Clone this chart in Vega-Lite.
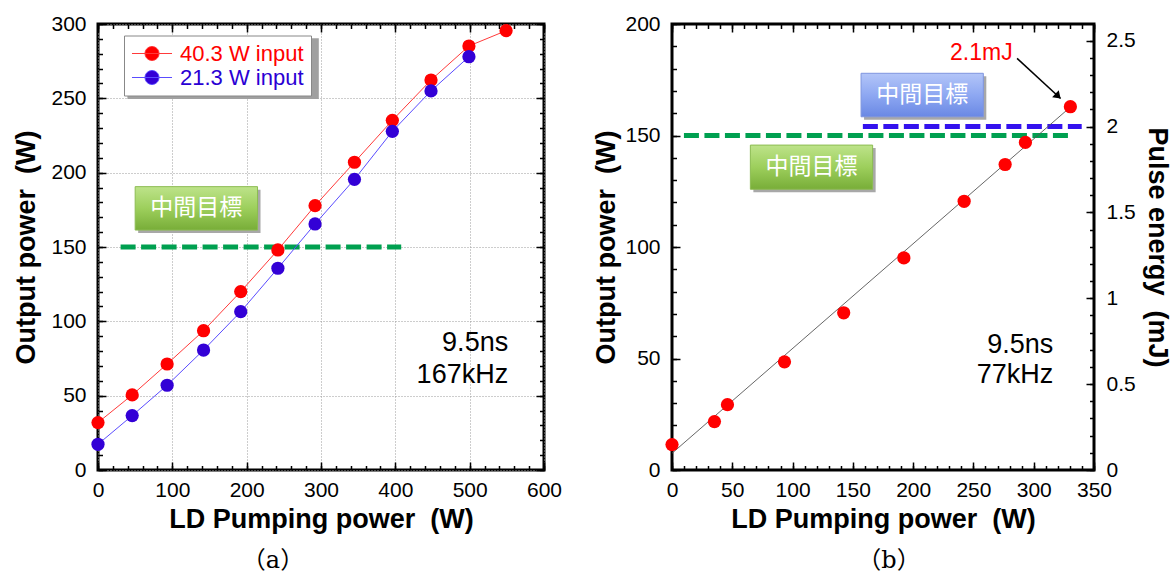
{
  "$schema": "https://vega.github.io/schema/vega-lite/v6.json",
  "background": "white",
  "padding": {"left": 11, "top": 11, "right": 0, "bottom": 0},
  "spacing": 27,
  "config": {
    "view": {"stroke": "black", "strokeWidth": 3},
    "font": "Liberation Sans",
    "axis": {"labelFont": "Liberation Sans", "labelFontSize": 21, "labelColor": "black", "titleFont": "Liberation Sans", "titleFontSize": 27, "titleFontWeight": "bold", "titleColor": "black", "domain": false, "grid": false, "labelFlush": false, "labelOverlap": false, "tickColor": "black", "tickWidth": 1.5}
  },
  "datasets": {
    "a": [
      {"x": 0, "y": 31.9, "series": "40.3 W input"},
      {"x": 46, "y": 50.5, "series": "40.3 W input"},
      {"x": 93, "y": 71.3, "series": "40.3 W input"},
      {"x": 142, "y": 93.7, "series": "40.3 W input"},
      {"x": 192, "y": 120, "series": "40.3 W input"},
      {"x": 242, "y": 148, "series": "40.3 W input"},
      {"x": 292, "y": 177.8, "series": "40.3 W input"},
      {"x": 345, "y": 207, "series": "40.3 W input"},
      {"x": 396, "y": 235.2, "series": "40.3 W input"},
      {"x": 448, "y": 262.3, "series": "40.3 W input"},
      {"x": 499, "y": 285.2, "series": "40.3 W input"},
      {"x": 549, "y": 295.5, "series": "40.3 W input"},
      {"x": 0, "y": 17.3, "series": "21.3 W input"},
      {"x": 46, "y": 36.6, "series": "21.3 W input"},
      {"x": 93, "y": 57, "series": "21.3 W input"},
      {"x": 142, "y": 80.7, "series": "21.3 W input"},
      {"x": 192, "y": 106.5, "series": "21.3 W input"},
      {"x": 242, "y": 135.7, "series": "21.3 W input"},
      {"x": 292, "y": 165.5, "series": "21.3 W input"},
      {"x": 345, "y": 195.5, "series": "21.3 W input"},
      {"x": 396, "y": 227.8, "series": "21.3 W input"},
      {"x": 448, "y": 255, "series": "21.3 W input"},
      {"x": 499, "y": 278, "series": "21.3 W input"}
    ],
    "a_dash": [{"x": 30.4, "x2": 407.9, "y": 150}],
    "a_box": [{"x": 50, "x2": 214.6, "y": 161.4, "y2": 190.6, "cx": 132.3, "cy": 176, "label": "中間目標"}],
    "a_leg": [{"x": 35.5, "x2": 293, "y": 251.5, "y2": 292.5}],
    "a_text": [{"x": 551.8, "y": 85.2, "t": "9.5ns"}, {"x": 551.8, "y": 63.9, "t": "167kHz"}],
    "b": [
      {"x": 0, "y": 11.4}, {"x": 35.2, "y": 21.7}, {"x": 46, "y": 29.3}, {"x": 93.3, "y": 48.5},
      {"x": 142.4, "y": 70.5}, {"x": 192.3, "y": 95.1}, {"x": 242.3, "y": 120.5}, {"x": 276.3, "y": 137},
      {"x": 293.1, "y": 146.9}, {"x": 330.4, "y": 162.9}
    ],
    "b_fit": [{"x": 0, "y": 7.5}, {"x": 332, "y": 163.5}],
    "b_dash_g": [{"x": 9.9, "x2": 332, "y": 150}],
    "b_dash_b": [{"x": 158.3, "x2": 339.8, "y": 154}],
    "b_box_g": [{"x": 65, "x2": 166.4, "y": 125.9, "y2": 145.7, "cx": 115.7, "cy": 135.8, "label": "中間目標"}],
    "b_box_b": [{"x": 156.8, "x2": 258.2, "y": 158.4, "y2": 177.9, "cx": 207.5, "cy": 168.1, "label": "中間目標"}],
    "b_text": [{"x": 316.3, "y": 56.2, "t": "9.5ns"}, {"x": 316.3, "y": 42.4, "t": "77kHz"}],
    "b_note": [{"x": 256.6, "y": 186.8, "t": "2.1mJ"}],
    "b_arrow": [{"x": 286.2, "y": 184.6, "x2": 322.3, "y2": 166.6}]
  },
  "hconcat": [
    {
      "width": 446,
      "height": 446,
      "title": {"text": "（a）", "orient": "bottom", "font": "DejaVu Serif, Noto Sans CJK JP", "fontSize": 24, "fontWeight": "normal", "color": "black", "frame": "group", "anchor": "middle", "dx": -48, "offset": 17},
      "resolve": {"scale": {"color": "independent"}, "axis": {"x": "independent", "y": "independent"}},
      "layer": [
        {
          "data": {"name": "a"},
          "mark": {"type": "point", "opacity": 0},
          "encoding": {
            "x": {"field": "x", "type": "quantitative", "scale": {"domain": [0, 600], "nice": false, "zero": false},
              "axis": {"orient": "bottom", "values": [0, 100, 200, 300, 400, 500, 600], "ticks": false, "labelPadding": 9, "grid": true, "gridColor": "#9a9a9a", "gridDash": [1, 2], "gridWidth": 1, "title": "LD Pumping power\u00a0 (W)", "titlePadding": 6}},
            "y": {"field": "y", "type": "quantitative", "scale": {"domain": [0, 300], "nice": false, "zero": false},
              "axis": {"orient": "left", "values": [0, 50, 100, 150, 200, 250, 300], "ticks": false, "labelPadding": 12, "grid": true, "gridColor": "#9a9a9a", "gridDash": [1, 2], "gridWidth": 1, "title": "Output power\u00a0 (W)", "titlePadding": 10}}
          }
        },
        {
          "data": {"name": "a"},
          "mark": {"type": "point", "opacity": 0},
          "encoding": {
            "x": {"field": "x", "type": "quantitative", "scale": {"domain": [0, 600], "nice": false, "zero": false},
              "axis": {"orient": "bottom", "values": [0, 100, 200, 300, 400, 500, 600], "labels": false, "tickSize": -8, "title": null}},
            "y": {"field": "y", "type": "quantitative", "scale": {"domain": [0, 300], "nice": false, "zero": false},
              "axis": {"orient": "left", "values": [0, 50, 100, 150, 200, 250, 300], "labels": false, "tickSize": -8, "title": null}}
          }
        },
        {
          "data": {"name": "a"},
          "mark": {"type": "point", "opacity": 0},
          "encoding": {
            "x": {"field": "x", "type": "quantitative", "scale": {"domain": [0, 600], "nice": false, "zero": false},
              "axis": {"orient": "bottom", "values": [0, 20, 40, 60, 80, 100, 120, 140, 160, 180, 200, 220, 240, 260, 280, 300, 320, 340, 360, 380, 400, 420, 440, 460, 480, 500, 520, 540, 560, 580, 600], "labels": false, "tickSize": -4.5, "title": null}},
            "y": {"field": "y", "type": "quantitative", "scale": {"domain": [0, 300], "nice": false, "zero": false},
              "axis": {"orient": "left", "values": [0, 10, 20, 30, 40, 50, 60, 70, 80, 90, 100, 110, 120, 130, 140, 150, 160, 170, 180, 190, 200, 210, 220, 230, 240, 250, 260, 270, 280, 290, 300], "labels": false, "tickSize": -4.5, "title": null}}
          }
        },
        {
          "data": {"name": "a"},
          "mark": {"type": "point", "opacity": 0},
          "encoding": {
            "x": {"field": "x", "type": "quantitative", "scale": {"domain": [0, 600], "nice": false, "zero": false},
              "axis": {"orient": "top", "values": [0, 100, 200, 300, 400, 500, 600], "labels": false, "tickSize": -8, "title": null}},
            "y": {"field": "y", "type": "quantitative", "scale": {"domain": [0, 300], "nice": false, "zero": false},
              "axis": {"orient": "right", "values": [0, 50, 100, 150, 200, 250, 300], "labels": false, "tickSize": -8, "title": null}}
          }
        },
        {
          "data": {"name": "a"},
          "mark": {"type": "point", "opacity": 0},
          "encoding": {
            "x": {"field": "x", "type": "quantitative", "scale": {"domain": [0, 600], "nice": false, "zero": false},
              "axis": {"orient": "top", "values": [0, 20, 40, 60, 80, 100, 120, 140, 160, 180, 200, 220, 240, 260, 280, 300, 320, 340, 360, 380, 400, 420, 440, 460, 480, 500, 520, 540, 560, 580, 600], "labels": false, "tickSize": -4.5, "title": null}},
            "y": {"field": "y", "type": "quantitative", "scale": {"domain": [0, 300], "nice": false, "zero": false},
              "axis": {"orient": "right", "values": [0, 10, 20, 30, 40, 50, 60, 70, 80, 90, 100, 110, 120, 130, 140, 150, 160, 170, 180, 190, 200, 210, 220, 230, 240, 250, 260, 270, 280, 290, 300], "labels": false, "tickSize": -4.5, "title": null}}
          }
        },
        {
          "data": {"name": "a_dash"},
          "mark": {"type": "rule", "color": "#00a050", "strokeWidth": 5, "strokeDash": [15, 5.5]},
          "encoding": {
            "x": {"field": "x", "type": "quantitative", "scale": {"domain": [0, 600], "nice": false, "zero": false}, "axis": null},
            "x2": {"field": "x2"},
            "y": {"field": "y", "type": "quantitative", "scale": {"domain": [0, 300], "nice": false, "zero": false}, "axis": null}
          }
        },
        {
          "data": {"name": "a_box"},
          "mark": {"type": "rect", "color": "#a8a8a8", "xOffset": 3, "x2Offset": 3, "yOffset": 3, "y2Offset": 3},
          "encoding": {
            "x": {"field": "x", "type": "quantitative", "scale": {"domain": [0, 600], "nice": false, "zero": false}, "axis": null},
            "x2": {"field": "x2"},
            "y": {"field": "y", "type": "quantitative", "scale": {"domain": [0, 300], "nice": false, "zero": false}, "axis": null},
            "y2": {"field": "y2"}
          }
        },
        {
          "data": {"name": "a_box"},
          "mark": {"type": "rect", "stroke": "#8cbc52", "strokeWidth": 1, "color": {"gradient": "linear", "x1": 0, "y1": 0, "x2": 0, "y2": 1, "stops": [{"offset": 0, "color": "#bde38a"}, {"offset": 0.5, "color": "#9dcf5c"}, {"offset": 1, "color": "#78ad38"}]}},
          "encoding": {
            "x": {"field": "x", "type": "quantitative", "scale": {"domain": [0, 600], "nice": false, "zero": false}, "axis": null},
            "x2": {"field": "x2"},
            "y": {"field": "y", "type": "quantitative", "scale": {"domain": [0, 300], "nice": false, "zero": false}, "axis": null},
            "y2": {"field": "y2"}
          }
        },
        {
          "data": {"name": "a_box"},
          "mark": {"type": "text", "color": "white", "font": "Noto Sans CJK JP", "fontSize": 23, "align": "center", "baseline": "middle"},
          "encoding": {
            "x": {"field": "cx", "type": "quantitative", "scale": {"domain": [0, 600], "nice": false, "zero": false}, "axis": null},
            "y": {"field": "cy", "type": "quantitative", "scale": {"domain": [0, 300], "nice": false, "zero": false}, "axis": null},
            "text": {"field": "label"}
          }
        },
        {
          "data": {"name": "a_leg"},
          "mark": {"type": "rect", "color": "#a0a0a0", "xOffset": 3, "x2Offset": 3, "yOffset": 3, "y2Offset": 3},
          "encoding": {
            "x": {"field": "x", "type": "quantitative", "scale": {"domain": [0, 600], "nice": false, "zero": false}, "axis": null},
            "x2": {"field": "x2"},
            "y": {"field": "y", "type": "quantitative", "scale": {"domain": [0, 300], "nice": false, "zero": false}, "axis": null},
            "y2": {"field": "y2"}
          }
        },
        {
          "data": {"name": "a_text"},
          "mark": {"type": "text", "color": "black", "font": "Liberation Sans", "fontSize": 27, "align": "right", "baseline": "middle"},
          "encoding": {
            "x": {"field": "x", "type": "quantitative", "scale": {"domain": [0, 600], "nice": false, "zero": false}, "axis": null},
            "y": {"field": "y", "type": "quantitative", "scale": {"domain": [0, 300], "nice": false, "zero": false}, "axis": null},
            "text": {"field": "t"}
          }
        },
        {
          "data": {"name": "a"},
          "mark": {"type": "line", "strokeWidth": 1},
          "encoding": {
            "x": {"field": "x", "type": "quantitative", "scale": {"domain": [0, 600], "nice": false, "zero": false}, "axis": null},
            "y": {"field": "y", "type": "quantitative", "scale": {"domain": [0, 300], "nice": false, "zero": false}, "axis": null},
            "color": {"field": "series", "type": "nominal", "scale": {"domain": ["40.3 W input", "21.3 W input"], "range": ["#ff3a3a", "#5a4cff"]}, "legend": null}
          }
        },
        {
          "data": {"name": "a"},
          "mark": {"type": "circle", "size": 175, "opacity": 1},
          "encoding": {
            "x": {"field": "x", "type": "quantitative", "scale": {"domain": [0, 600], "nice": false, "zero": false}, "axis": null},
            "y": {"field": "y", "type": "quantitative", "scale": {"domain": [0, 300], "nice": false, "zero": false}, "axis": null},
            "color": {"field": "series", "type": "nominal", "scale": {"domain": ["40.3 W input", "21.3 W input"], "range": ["#ff0000", "#3300d6"]},
              "legend": {"orient": "none", "legendX": 26, "legendY": 11.5, "title": null, "fillColor": "white", "strokeColor": "#888888", "padding": 7, "symbolType": "M-1.43,0L4.29,0M0.43,0A1,1,0,1,1,2.43,0A1,1,0,1,1,0.43,0Z", "symbolSize": 196, "symbolStrokeWidth": 1, "symbolOpacity": 1, "labelFont": "Liberation Sans", "labelFontSize": 22, "labelOffset": 27, "rowPadding": 2, "labelLimit": 300,
                "encode": {
                  "labels": {"update": {"fill": {"signal": "datum.value === '40.3 W input' ? '#ff0000' : '#2a00d4'"}}},
                  "symbols": {"update": {"stroke": {"signal": "datum.value === '40.3 W input' ? '#ff3a3a' : '#5a4cff'"}}}
                }}}
          }
        }
      ]
    },
    {
      "width": 422,
      "height": 446,
      "title": {"text": "（b）", "orient": "bottom", "font": "DejaVu Serif, Noto Sans CJK JP", "fontSize": 24, "fontWeight": "normal", "color": "black", "frame": "group", "anchor": "middle", "dx": 6, "offset": 17},
      "resolve": {"axis": {"x": "independent", "y": "independent"}},
      "layer": [
        {
          "data": {"name": "b"},
          "mark": {"type": "point", "opacity": 0},
          "encoding": {
            "x": {"field": "x", "type": "quantitative", "scale": {"domain": [0, 350], "nice": false, "zero": false},
              "axis": {"orient": "bottom", "values": [0, 50, 100, 150, 200, 250, 300, 350], "ticks": false, "labelPadding": 9, "title": "LD Pumping power\u00a0 (W)", "titlePadding": 6}},
            "y": {"field": "y", "type": "quantitative", "scale": {"domain": [0, 200], "nice": false, "zero": false},
              "axis": {"orient": "left", "values": [0, 50, 100, 150, 200], "ticks": false, "labelPadding": 12, "title": "Output power\u00a0 (W)", "titlePadding": 4}}
          }
        },
        {
          "data": {"name": "b"},
          "mark": {"type": "point", "opacity": 0},
          "encoding": {
            "x": {"field": "x", "type": "quantitative", "scale": {"domain": [0, 350], "nice": false, "zero": false},
              "axis": {"orient": "bottom", "values": [0, 50, 100, 150, 200, 250, 300, 350], "labels": false, "tickSize": -8, "title": null}},
            "y": {"field": "y", "type": "quantitative", "scale": {"domain": [0, 200], "nice": false, "zero": false},
              "axis": {"orient": "left", "values": [0, 50, 100, 150, 200], "labels": false, "tickSize": -8, "title": null}}
          }
        },
        {
          "data": {"name": "b"},
          "mark": {"type": "point", "opacity": 0},
          "encoding": {
            "x": {"field": "x", "type": "quantitative", "scale": {"domain": [0, 350], "nice": false, "zero": false},
              "axis": {"orient": "bottom", "values": [0, 10, 20, 30, 40, 50, 60, 70, 80, 90, 100, 110, 120, 130, 140, 150, 160, 170, 180, 190, 200, 210, 220, 230, 240, 250, 260, 270, 280, 290, 300, 310, 320, 330, 340, 350], "labels": false, "tickSize": -4.5, "title": null}},
            "y": {"field": "y", "type": "quantitative", "scale": {"domain": [0, 200], "nice": false, "zero": false},
              "axis": {"orient": "left", "values": [0, 10, 20, 30, 40, 50, 60, 70, 80, 90, 100, 110, 120, 130, 140, 150, 160, 170, 180, 190, 200], "labels": false, "tickSize": -4.5, "title": null}}
          }
        },
        {
          "data": {"name": "b"},
          "mark": {"type": "point", "opacity": 0},
          "encoding": {
            "x": {"field": "x", "type": "quantitative", "scale": {"domain": [0, 350], "nice": false, "zero": false},
              "axis": {"orient": "top", "values": [0, 50, 100, 150, 200, 250, 300, 350], "labels": false, "tickSize": -8, "title": null}},
            "y": {"field": "y", "type": "quantitative", "scale": {"domain": [0, 200], "nice": false, "zero": false},
              "axis": {"orient": "right", "values": [0, 38.5, 77, 115.5, 154, 192.5], "labelExpr": "format(datum.value / 77, '~g')", "ticks": true, "tickSize": -8, "labelPadding": 20, "title": "Pulse energy\u00a0 (mJ)", "titlePadding": 7}}
          }
        },
        {
          "data": {"name": "b"},
          "mark": {"type": "point", "opacity": 0},
          "encoding": {
            "x": {"field": "x", "type": "quantitative", "scale": {"domain": [0, 350], "nice": false, "zero": false},
              "axis": {"orient": "top", "values": [0, 10, 20, 30, 40, 50, 60, 70, 80, 90, 100, 110, 120, 130, 140, 150, 160, 170, 180, 190, 200, 210, 220, 230, 240, 250, 260, 270, 280, 290, 300, 310, 320, 330, 340, 350], "labels": false, "tickSize": -4.5, "title": null}},
            "y": {"field": "y", "type": "quantitative", "scale": {"domain": [0, 200], "nice": false, "zero": false},
              "axis": {"orient": "right", "values": [0, 7.7, 15.4, 23.1, 30.8, 38.5, 46.2, 53.9, 61.6, 69.3, 77, 84.7, 92.4, 100.1, 107.8, 115.5, 123.2, 130.9, 138.6, 146.3, 154, 161.7, 169.4, 177.1, 184.8, 192.5], "labels": false, "tickSize": -4.5, "title": null}}
          }
        },
        {
          "data": {"name": "b_dash_g"},
          "mark": {"type": "rule", "color": "#00a050", "strokeWidth": 5, "strokeDash": [15, 5.5]},
          "encoding": {
            "x": {"field": "x", "type": "quantitative", "scale": {"domain": [0, 350], "nice": false, "zero": false}, "axis": null},
            "x2": {"field": "x2"},
            "y": {"field": "y", "type": "quantitative", "scale": {"domain": [0, 200], "nice": false, "zero": false}, "axis": null}
          }
        },
        {
          "data": {"name": "b_dash_b"},
          "mark": {"type": "rule", "color": "#3311ee", "strokeWidth": 5, "strokeDash": [15, 5.5]},
          "encoding": {
            "x": {"field": "x", "type": "quantitative", "scale": {"domain": [0, 350], "nice": false, "zero": false}, "axis": null},
            "x2": {"field": "x2"},
            "y": {"field": "y", "type": "quantitative", "scale": {"domain": [0, 200], "nice": false, "zero": false}, "axis": null}
          }
        },
        {
          "data": {"name": "b_box_g"},
          "mark": {"type": "rect", "color": "#a8a8a8", "xOffset": 3, "x2Offset": 3, "yOffset": 3, "y2Offset": 3},
          "encoding": {
            "x": {"field": "x", "type": "quantitative", "scale": {"domain": [0, 350], "nice": false, "zero": false}, "axis": null},
            "x2": {"field": "x2"},
            "y": {"field": "y", "type": "quantitative", "scale": {"domain": [0, 200], "nice": false, "zero": false}, "axis": null},
            "y2": {"field": "y2"}
          }
        },
        {
          "data": {"name": "b_box_g"},
          "mark": {"type": "rect", "stroke": "#8cbc52", "strokeWidth": 1, "color": {"gradient": "linear", "x1": 0, "y1": 0, "x2": 0, "y2": 1, "stops": [{"offset": 0, "color": "#bde38a"}, {"offset": 0.5, "color": "#9dcf5c"}, {"offset": 1, "color": "#78ad38"}]}},
          "encoding": {
            "x": {"field": "x", "type": "quantitative", "scale": {"domain": [0, 350], "nice": false, "zero": false}, "axis": null},
            "x2": {"field": "x2"},
            "y": {"field": "y", "type": "quantitative", "scale": {"domain": [0, 200], "nice": false, "zero": false}, "axis": null},
            "y2": {"field": "y2"}
          }
        },
        {
          "data": {"name": "b_box_g"},
          "mark": {"type": "text", "color": "white", "font": "Noto Sans CJK JP", "fontSize": 23, "align": "center", "baseline": "middle"},
          "encoding": {
            "x": {"field": "cx", "type": "quantitative", "scale": {"domain": [0, 350], "nice": false, "zero": false}, "axis": null},
            "y": {"field": "cy", "type": "quantitative", "scale": {"domain": [0, 200], "nice": false, "zero": false}, "axis": null},
            "text": {"field": "label"}
          }
        },
        {
          "data": {"name": "b_box_b"},
          "mark": {"type": "rect", "color": "#a8a8a8", "xOffset": 3, "x2Offset": 3, "yOffset": 3, "y2Offset": 3},
          "encoding": {
            "x": {"field": "x", "type": "quantitative", "scale": {"domain": [0, 350], "nice": false, "zero": false}, "axis": null},
            "x2": {"field": "x2"},
            "y": {"field": "y", "type": "quantitative", "scale": {"domain": [0, 200], "nice": false, "zero": false}, "axis": null},
            "y2": {"field": "y2"}
          }
        },
        {
          "data": {"name": "b_box_b"},
          "mark": {"type": "rect", "stroke": "#7f95df", "strokeWidth": 1, "color": {"gradient": "linear", "x1": 0, "y1": 0, "x2": 0, "y2": 1, "stops": [{"offset": 0, "color": "#b3c5f8"}, {"offset": 0.5, "color": "#8ea8f2"}, {"offset": 1, "color": "#6a88e4"}]}},
          "encoding": {
            "x": {"field": "x", "type": "quantitative", "scale": {"domain": [0, 350], "nice": false, "zero": false}, "axis": null},
            "x2": {"field": "x2"},
            "y": {"field": "y", "type": "quantitative", "scale": {"domain": [0, 200], "nice": false, "zero": false}, "axis": null},
            "y2": {"field": "y2"}
          }
        },
        {
          "data": {"name": "b_box_b"},
          "mark": {"type": "text", "color": "white", "font": "Noto Sans CJK JP", "fontSize": 23, "align": "center", "baseline": "middle"},
          "encoding": {
            "x": {"field": "cx", "type": "quantitative", "scale": {"domain": [0, 350], "nice": false, "zero": false}, "axis": null},
            "y": {"field": "cy", "type": "quantitative", "scale": {"domain": [0, 200], "nice": false, "zero": false}, "axis": null},
            "text": {"field": "label"}
          }
        },
        {
          "data": {"name": "b_text"},
          "mark": {"type": "text", "color": "black", "font": "Liberation Sans", "fontSize": 27, "align": "right", "baseline": "middle"},
          "encoding": {
            "x": {"field": "x", "type": "quantitative", "scale": {"domain": [0, 350], "nice": false, "zero": false}, "axis": null},
            "y": {"field": "y", "type": "quantitative", "scale": {"domain": [0, 200], "nice": false, "zero": false}, "axis": null},
            "text": {"field": "t"}
          }
        },
        {
          "data": {"name": "b_note"},
          "mark": {"type": "text", "color": "#ff0000", "font": "Liberation Sans", "fontSize": 23, "align": "center", "baseline": "middle"},
          "encoding": {
            "x": {"field": "x", "type": "quantitative", "scale": {"domain": [0, 350], "nice": false, "zero": false}, "axis": null},
            "y": {"field": "y", "type": "quantitative", "scale": {"domain": [0, 200], "nice": false, "zero": false}, "axis": null},
            "text": {"field": "t"}
          }
        },
        {
          "data": {"name": "b_arrow"},
          "mark": {"type": "rule", "color": "black", "strokeWidth": 1.5},
          "encoding": {
            "x": {"field": "x", "type": "quantitative", "scale": {"domain": [0, 350], "nice": false, "zero": false}, "axis": null},
            "x2": {"field": "x2"},
            "y": {"field": "y", "type": "quantitative", "scale": {"domain": [0, 200], "nice": false, "zero": false}, "axis": null},
            "y2": {"field": "y2"}
          }
        },
        {
          "data": {"name": "b_arrow"},
          "mark": {"type": "point", "shape": "M-1,-0.7L0,0L-1,0.7Z", "filled": true, "color": "black", "size": 196, "angle": 42.5, "opacity": 1},
          "encoding": {
            "x": {"field": "x2", "type": "quantitative", "scale": {"domain": [0, 350], "nice": false, "zero": false}, "axis": null},
            "y": {"field": "y2", "type": "quantitative", "scale": {"domain": [0, 200], "nice": false, "zero": false}, "axis": null}
          }
        },
        {
          "data": {"name": "b_fit"},
          "mark": {"type": "line", "color": "#555555", "strokeWidth": 0.9},
          "encoding": {
            "x": {"field": "x", "type": "quantitative", "scale": {"domain": [0, 350], "nice": false, "zero": false}, "axis": null},
            "y": {"field": "y", "type": "quantitative", "scale": {"domain": [0, 200], "nice": false, "zero": false}, "axis": null}
          }
        },
        {
          "data": {"name": "b"},
          "mark": {"type": "circle", "color": "#ff0000", "size": 175, "opacity": 1},
          "encoding": {
            "x": {"field": "x", "type": "quantitative", "scale": {"domain": [0, 350], "nice": false, "zero": false}, "axis": null},
            "y": {"field": "y", "type": "quantitative", "scale": {"domain": [0, 200], "nice": false, "zero": false}, "axis": null}
          }
        }
      ]
    }
  ]
}
